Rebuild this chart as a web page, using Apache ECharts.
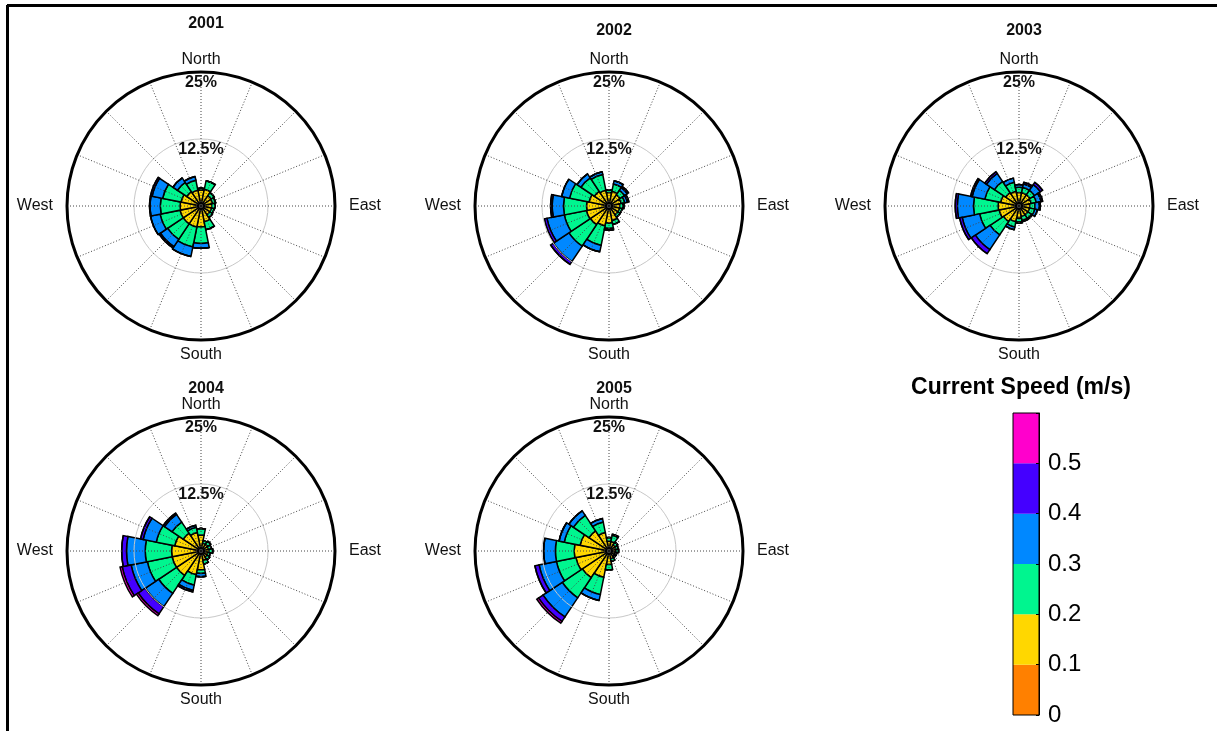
<!DOCTYPE html>
<html>
<head>
<meta charset="utf-8">
<script src="https://cdn.jsdelivr.net/npm/echarts@6/dist/echarts.min.js"></script>
<style>
  html, body { margin: 0; padding: 0; background: #fff; }
  #chart { width: 1217px; height: 731px; }
</style>
</head>
<body>
<div id="chart"></div>
<script>
// directions, clockwise from north
const directions = ['N','NNE','NE','ENE','E','ESE','SE','SSE','S','SSW','SW','WSW','W','WNW','NW','NNW'];
const years = ['2001', '2002', '2003', '2004', '2005'];
const speedBins = ['0-0.1', '0.1-0.2', '0.2-0.3', '0.3-0.4', '0.4-0.5', '>0.5'];
const colorbarTicks = ['0', '0.1', '0.2', '0.3', '0.4', '0.5'];
const colorbarStep = [0.1, 0.1, 0.1, 0.1, 0.1, 0.1];

// frequency (%) per speed bin, one row per bin: orange, yellow, green, blue, purple, magenta
const freq2001 = [
  [0.7,0.7,0.7,0.7,0.7,0.7,0.7,0.7,0.7,0.7,0.7,0.7,0.7,0.7,0.7,0.7],
  [2.3,2.5,1.6,1.5,1.3,1.3,1.3,2.3,3.2,3.3,3.3,3.3,3.2,3.1,2.5,2.3],
  [0.3,1.6,0.7,0.6,0.6,0.5,0.6,1.5,3.1,3.8,3.5,3.8,3.7,3.5,2.1,1.9],
  [0,0,0,0,0,0,0,0,0.9,1.8,1.6,1.8,1.9,2.0,1.0,0.7],
  [0,0,0,0,0,0,0,0,0,0,0.3,0,0.1,0.3,0,0],
  [0,0,0,0,0,0,0,0,0,0,0,0,0,0,0,0]
];
const freq2002 = [
  [0.7,0.7,0.7,0.7,0.7,0.7,0.7,0.7,0.7,0.7,0.7,0.7,0.7,0.7,0.7,0.7],
  [1.8,2.1,1.8,1.6,1.3,1.3,1.3,2.1,2.5,3.1,3.5,3.6,3.5,3.1,2.6,2.3],
  [0.5,1.4,1.0,0.7,0.6,0.5,0.5,0.7,1.0,3.7,4.8,4.2,4.3,3.7,3.0,3.0],
  [0,0.6,0.6,0.5,0.2,0,0,0,0.3,1.2,3.5,3.3,2.1,1.5,0.9,0.5],
  [0,0,0.3,0.3,0,0,0,0,0,0,0.6,0.5,0.3,0,0,0],
  [0,0,0,0,0,0,0,0,0,0,0,0,0,0,0,0]
];
const freq2003 = [
  [0.7,0.7,0.7,0.7,0.7,0.7,0.7,0.7,0.7,0.7,0.7,0.7,0.7,0.7,0.7,0.7],
  [1.8,1.8,1.8,1.6,1.3,1.3,1.3,1.3,1.6,2.3,2.8,3.1,3.2,2.8,2.3,2.1],
  [1.0,1.0,1.0,1.0,1.0,1.0,0.8,0.8,0.7,1.0,3.0,3.7,4.6,3.0,2.5,1.7],
  [0.5,0.7,1.3,0.9,0.8,0.5,0.2,0.2,0.2,0.5,3.3,3.3,3.0,2.4,1.8,0.8],
  [0,0.3,0.5,0.3,0.2,0,0,0,0,0,0.9,0.5,0.4,0.3,0.4,0],
  [0,0,0,0,0,0,0,0,0,0,0,0,0,0,0,0]
];
const freq2004 = [
  [0.7,0.7,0.7,0.7,0.7,0.7,0.7,0.7,0.7,0.7,0.7,0.7,0.7,0.7,0.7,0.7],
  [2.3,0.8,0.8,0.7,0.8,0.6,0.7,1.1,2.8,3.8,4.8,4.8,4.8,4.3,3.3,2.8],
  [1.2,0.5,0.7,0.6,0.7,0.5,0.6,0.7,0.7,2.0,4.0,4.7,4.9,3.5,2.5,1.0],
  [0,0,0,0,0,0,0,0,0.6,1.0,3.0,3.1,3.5,2.5,1.7,0.4],
  [0,0,0,0,0,0,0,0,0,0.3,1.6,1.7,0.9,0.5,0.3,0],
  [0,0,0,0,0,0,0,0,0,0,0.4,0.4,0,0,0,0]
];
const freq2005 = [
  [0.7,0.7,0.7,0.7,0.7,0.7,0.7,0.7,0.7,0.7,0.7,0.7,0.7,0.7,0.7,0.7],
  [1.1,1.1,0.7,0.6,0.6,0.5,0.5,0.8,1.8,4.3,5.3,5.6,5.8,4.8,3.8,2.8],
  [0.7,1.2,0.6,0.5,0.5,0.3,0.3,0.5,1.0,3.3,4.5,3.7,3.5,3.0,3.5,2.0],
  [0,0.2,0,0,0,0,0,0,0,1.1,4.3,3.3,2.2,1.0,1.0,0.7],
  [0,0,0,0,0,0,0,0,0,0,1.0,0.8,0,0,0,0],
  [0,0,0,0,0,0,0,0,0,0,0.4,0,0,0,0,0]
];
const roses = [freq2001, freq2002, freq2003, freq2004, freq2005];

const binColors = ['#ff8000', '#ffd700', '#00f58f', '#0088ff', '#4400ff', '#ff00cc'];
const centers = [[201, 206], [609, 206], [1019, 206], [201, 551], [609, 551]];
const titleTops = [11, 18, 18, 376, 376];
const R = 134;
const font = 'Arial, "Liberation Sans", sans-serif';

const chart = echarts.init(document.getElementById('chart'));

const polar = [];
const angleAxis = [];
const radiusAxis = [];
const series = [];
const title = [];

// grid polars (0..4) drawn above the bars
centers.forEach((c, i) => {
  polar.push({ center: c, radius: R });
  angleAxis.push({
    polarIndex: i, type: 'value', min: 0, max: 360, interval: 22.5,
    startAngle: 90, clockwise: true, z: 5,
    axisLine: { lineStyle: { color: '#000', width: 3 } },
    axisTick: { show: false },
    splitLine: { lineStyle: { color: '#444', type: [1, 2], width: 1 } },
    axisLabel: {
      margin: 4, color: '#111', fontFamily: font, fontSize: 16,
      formatter: v => ({ 0: 'North', 90: '{e|East}', 180: '{s|South}', 270: '{w|West}' })[v] || '',
      rich: {
        e: { fontFamily: font, fontSize: 16, color: '#111', padding: [0, 0, 0, 10] },
        w: { fontFamily: font, fontSize: 16, color: '#111', padding: [0, 10, 0, 0] },
        s: { fontFamily: font, fontSize: 16, color: '#111', padding: [3, 0, 0, 0] }
      }
    }
  });
  radiusAxis.push({
    polarIndex: i, type: 'value', min: 0, max: 25, interval: 12.5, z: 5,
    axisLine: { show: false }, axisTick: { show: false },
    splitLine: { lineStyle: { color: '#c8c8c8', width: 1 } },
    axisLabel: {
      margin: 0, rotate: 0, align: 'center', verticalAlign: 'top', padding: [3, 0, 0, 0],
      color: '#111', fontFamily: font, fontSize: 16, fontWeight: 'bold',
      formatter: v => v === 0 ? '' : v + '%'
    }
  });
  title.push({
    text: years[i], left: c[0], top: titleTops[i], textAlign: 'center',
    textStyle: { fontFamily: font, fontSize: 16, fontWeight: 'bold', color: '#111' }
  });
});

// bar polars (5..9)
centers.forEach((c, i) => {
  const p = i + 5;
  polar.push({ center: c, radius: R });
  angleAxis.push({
    polarIndex: p, type: 'category', data: directions,
    startAngle: 90 + 11.25, clockwise: true,
    axisLine: { show: false }, axisTick: { show: false },
    axisLabel: { show: false }, splitLine: { show: false }
  });
  radiusAxis.push({
    polarIndex: p, type: 'value', min: 0, max: 25,
    axisLine: { show: false }, axisTick: { show: false },
    axisLabel: { show: false }, splitLine: { show: false }
  });
  roses[i].forEach((vals, b) => {
    series.push({
      type: 'bar', coordinateSystem: 'polar', polarIndex: p,
      name: speedBins[b], stack: 'rose' + i, data: vals,
      barCategoryGap: '0%', z: 2,
      itemStyle: { color: binColors[b], borderColor: '#000', borderWidth: 1.5 }
    });
  });
});

// colour bar
title.push({
  text: 'Current Speed (m/s)', left: 1016, top: 371, textAlign: 'center',
  textStyle: { fontFamily: font, fontSize: 23, fontWeight: 'bold', color: '#000' }
});
colorbarStep.forEach((v, b) => {
  series.push({
    type: 'bar', xAxisIndex: 0, yAxisIndex: 0, stack: 'cbar', name: speedBins[b],
    data: [v], barWidth: '100%', z: 2,
    itemStyle: { color: binColors[b] }
  });
});

chart.setOption({
  animation: false,
  backgroundColor: '#fff',
  title: title,
  polar: polar,
  angleAxis: angleAxis,
  radiusAxis: radiusAxis,
  grid: [{ left: 1013, top: 413, width: 26, height: 302, show: true, borderColor: '#000', borderWidth: 1, z: 3 }],
  xAxis: [{ type: 'category', data: ['speed'], show: false }],
  yAxis: [{
    type: 'value', min: 0, max: 0.6, interval: 0.1, position: 'right', z: 4,
    axisLine: { show: true, lineStyle: { color: '#000' } },
    axisTick: { show: true, inside: true, length: 3, lineStyle: { color: '#000' } },
    splitLine: { show: false },
    axisLabel: {
      margin: 9, color: '#000', fontFamily: font, fontSize: 24,
      formatter: v => colorbarTicks[Math.round(v * 10)] || ''
    }
  }],
  graphic: [
    { type: 'line', shape: { x1: 7, y1: 5.5, x2: 1217, y2: 5.5 }, style: { stroke: '#000', lineWidth: 3 } },
    { type: 'line', shape: { x1: 7.5, y1: 5, x2: 7.5, y2: 731 }, style: { stroke: '#000', lineWidth: 3 } }
  ],
  series: series
});
</script>
</body>
</html>
